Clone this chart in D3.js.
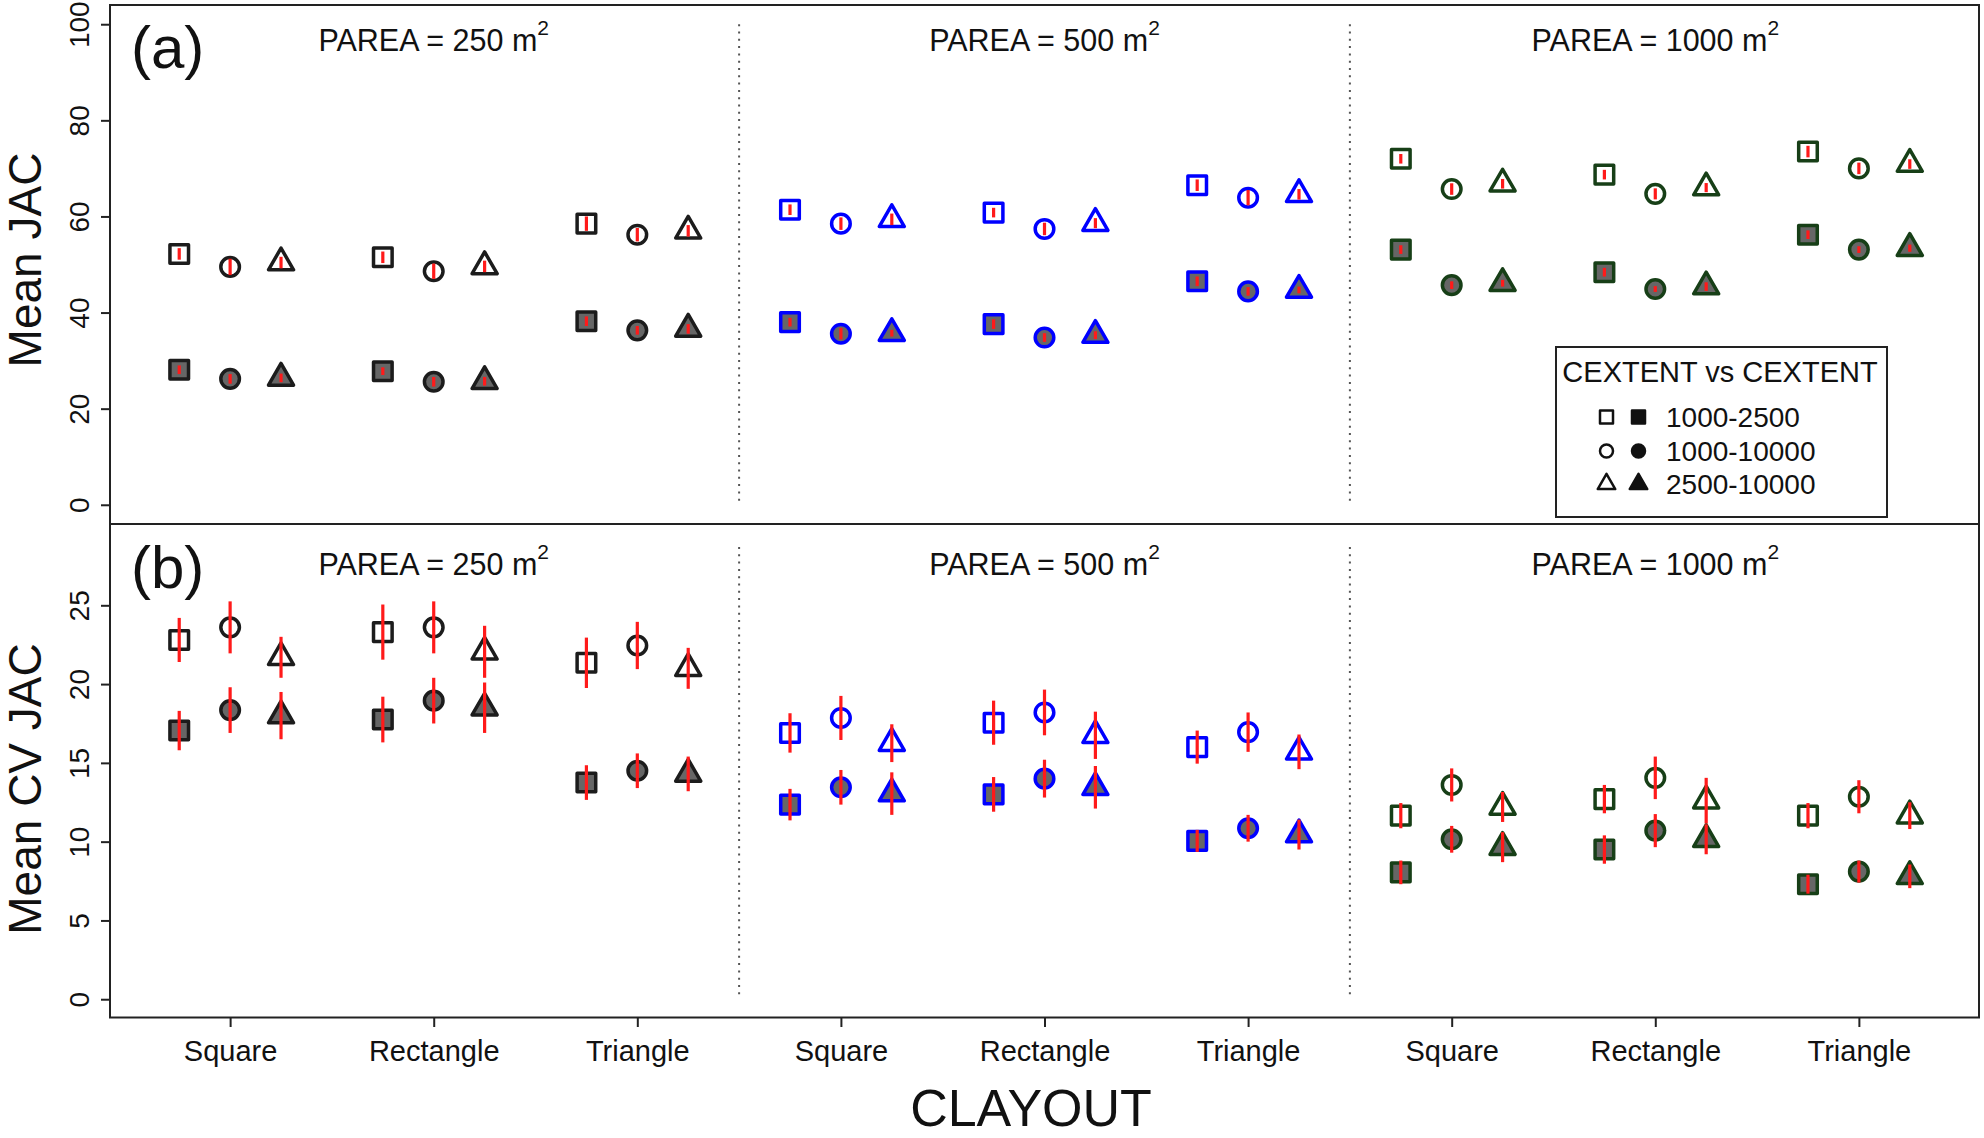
<!DOCTYPE html>
<meta charset="utf-8">
<script src="https://cdnjs.cloudflare.com/ajax/libs/d3/7.8.5/d3.min.js"></script>
<style>
body { margin: 0; background: #fff; }
text { font-family: "Liberation Sans", Arial, sans-serif; fill: #111; }
</style>
<body>
<script>

// categories (CLAYOUT) and the three PAREA groups
var categories = ["Square", "Rectangle", "Triangle", "Square", "Rectangle", "Triangle", "Square", "Rectangle", "Triangle"];
var pareaLabels = ["250", "500", "1000"];
var pairLabels = ["1000-2500", "1000-10000", "2500-10000"];
var groupColors = ["#1c1c1c", "#0000ff", "#173f17"];

// (a) Mean JAC, open and filled symbols
var jacOpenSq = [52.2, 51.5, 58.5, 61.4, 60.8, 66.5, 72.0, 68.7, 73.5];
var jacOpenCi = [49.5, 48.6, 56.2, 58.5, 57.4, 63.9, 65.7, 64.7, 70.0];
var jacOpenTr = [50.4, 49.6, 57.0, 59.4, 58.6, 64.6, 66.8, 66.0, 70.9];
var jacFillSq = [28.1, 27.8, 38.2, 38.0, 37.6, 46.5, 53.1, 48.4, 56.2];
var jacFillCi = [26.2, 25.6, 36.3, 35.6, 34.8, 44.4, 45.7, 44.9, 53.1];
var jacFillTr = [26.4, 25.7, 36.6, 35.7, 35.3, 44.7, 46.1, 45.4, 53.4];

var jacOpenSqSd = [1.2, 1.2, 1.5, 1.1, 1.0, 1.2, 1.0, 1.0, 1.2];
var jacOpenCiSd = [1.7, 1.6, 1.4, 1.3, 1.3, 1.6, 1.2, 1.15, 1.2];
var jacOpenTrSd = [1.2, 1.2, 1.2, 1.2, 1.05, 1.1, 1.0, 0.95, 1.0];
var jacFillSqSd = [0.9, 0.8, 1.0, 0.9, 1.0, 1.0, 0.9, 0.9, 0.9];
var jacFillCiSd = [1.0, 1.0, 0.9, 1.2, 0.9, 0.9, 0.8, 0.6, 0.7];
var jacFillTrSd = [0.9, 0.9, 1.0, 0.7, 0.8, 0.7, 0.7, 0.9, 0.75];

// (b) Mean CV JAC
var cvOpenSq = [22.8, 23.3, 21.35, 16.9, 17.55, 16.0, 11.65, 12.7, 11.65];
var cvOpenCi = [23.6, 23.6, 22.45, 17.85, 18.2, 16.95, 13.6, 14.05, 12.85];
var cvOpenTr = [21.7, 22.05, 21.0, 16.25, 16.75, 15.7, 12.2, 12.6, 11.65];
var cvFillSq = [17.05, 17.75, 13.75, 12.35, 13.0, 10.05, 8.05, 9.5, 7.3];
var cvFillCi = [18.35, 18.95, 14.5, 13.45, 14.0, 10.85, 10.15, 10.7, 8.1];
var cvFillTr = [18.0, 18.5, 14.3, 13.05, 13.45, 10.45, 9.65, 10.15, 7.8];

var cvOpenSqSd = [1.4, 1.75, 1.6, 1.25, 1.4, 1.05, 0.8, 0.9, 0.8];
var cvOpenCiSd = [1.65, 1.65, 1.5, 1.4, 1.45, 1.25, 1.05, 1.35, 1.05];
var cvOpenTrSd = [1.3, 1.65, 1.3, 1.2, 1.5, 1.1, 0.95, 1.45, 0.85];
var cvFillSqSd = [1.25, 1.45, 1.1, 1.0, 1.1, 0.7, 0.75, 0.9, 0.6];
var cvFillCiSd = [1.45, 1.45, 1.1, 1.1, 1.2, 0.85, 0.85, 1.05, 0.7];
var cvFillTrSd = [1.5, 1.6, 1.1, 1.35, 1.35, 0.95, 0.95, 0.95, 0.75];

var jacTicks = [0, 20, 40, 60, 80, 100];
var cvTicks = [0, 5, 10, 15, 20, 25];

// layout
var W = 1984, H = 1138;
var left = 110, right = 1979;
var topA = 5, midY = 524, botB = 1017.5;
var R = 9.3, RLeg = 6.5;

var svg = d3.select("body").append("svg")
    .attr("width", W)
    .attr("height", H);

var x = d3.scaleLinear().domain([0.41, 9.59]).range([left, right]);
var yA = d3.scaleLinear().domain([-4, 104]).range([midY, topA]);
var yB = d3.scaleLinear().domain([-1.16, 30.16]).range([botB, midY]);

var types = [d3.symbolSquare, d3.symbolCircle, d3.symbolTriangle];
var offsets = [-0.25, 0, 0.25];
function symPath(s, r) {
  var size = s == 0 ? 4 * r * r : Math.PI * r * r;
  return d3.symbol().type(types[s]).size(size)();
}

function buildRows(means, sds) {
  var rows = [];
  means.forEach(function(m, k) {
    m.forEach(function(v, i) {
      rows.push({ x: i + 1 + offsets[k % 3], m: v, sd: sds[k][i],
                  shape: k % 3, filled: k >= 3, color: groupColors[Math.floor(i / 3)] });
    });
  });
  return rows;
}

var rowsA = buildRows([jacOpenSq, jacOpenCi, jacOpenTr, jacFillSq, jacFillCi, jacFillTr],
                      [jacOpenSqSd, jacOpenCiSd, jacOpenTrSd, jacFillSqSd, jacFillCiSd, jacFillTrSd]);
var rowsB = buildRows([cvOpenSq, cvOpenCi, cvOpenTr, cvFillSq, cvFillCi, cvFillTr],
                      [cvOpenSqSd, cvOpenCiSd, cvOpenTrSd, cvFillSqSd, cvFillCiSd, cvFillTrSd]);

function drawPanel(y, rows, ticks, top, bottom, dotTop, tag, tagY, pareaY, title, titleY) {
  var g = svg.append("g");

  // dotted separators
  [3.5, 6.5].forEach(function(v) {
    g.append("line")
      .attr("x1", x(v)).attr("x2", x(v))
      .attr("y1", y(dotTop)).attr("y2", y(0))
      .attr("stroke", "#555").attr("stroke-width", 2)
      .attr("stroke-dasharray", "2,5.3");
  });

  // y axis
  var ax = g.append("g")
    .attr("transform", "translate(" + left + ",0)")
    .call(d3.axisLeft(y).tickValues(ticks).tickSize(9).tickFormat(d3.format("d")));
  ax.select(".domain").remove();
  ax.selectAll("line").attr("stroke", "#222").attr("stroke-width", 2);
  ax.selectAll("text")
    .attr("transform", "rotate(-90)")
    .attr("x", 0).attr("y", -21).attr("dy", 0)
    .attr("text-anchor", "middle")
    .style("font-size", "28px")
    .attr("fill", "#111");

  g.append("text")
    .attr("transform", "translate(41," + titleY + ") rotate(-90)")
    .attr("text-anchor", "middle")
    .style("font-size", "46px")
    .text(title);

  g.append("text")
    .attr("x", 131).attr("y", tagY)
    .style("font-size", "60px")
    .text(tag);

  pareaLabels.forEach(function(p, j) {
    g.append("text")
      .attr("x", x(j * 3 + 2)).attr("y", pareaY)
      .attr("text-anchor", "middle")
      .style("font-size", "30.5px")
      .text("PAREA = " + p + " m")
      .append("tspan").attr("dy", -16).style("font-size", "21px").text("2");
  });

  // markers
  g.selectAll(".pt").data(rows).enter().append("path")
    .attr("class", "pt")
    .attr("transform", function(d) { return "translate(" + x(d.x) + "," + y(d.m) + ")"; })
    .attr("d", function(d) { return symPath(d.shape, R); })
    .attr("fill", function(d) { return d.filled ? "#666666" : "#fff"; })
    .attr("stroke", function(d) { return d.color; })
    .attr("stroke-width", 3.5)
    .attr("stroke-linejoin", "round");

  // error bars
  g.selectAll(".eb").data(rows).enter().append("line")
    .attr("class", "eb")
    .attr("x1", function(d) { return x(d.x); })
    .attr("x2", function(d) { return x(d.x); })
    .attr("y1", function(d) { return y(d.m - d.sd); })
    .attr("y2", function(d) { return y(d.m + d.sd); })
    .attr("stroke", "#ff1a1a")
    .attr("stroke-width", 3.2);

  g.append("rect")
    .attr("x", left).attr("y", top)
    .attr("width", right - left).attr("height", bottom - top)
    .attr("fill", "none").attr("stroke", "#222").attr("stroke-width", 2);
  return g;
}

drawPanel(yA, rowsA, jacTicks, topA, midY, 100, "(a)", 68, 51, "Mean JAC", 260);
drawPanel(yB, rowsB, cvTicks, midY, botB, 28.7, "(b)", 588, 575, "Mean CV JAC", 789);

// x axis
var xa = svg.append("g")
  .attr("transform", "translate(0," + botB + ")")
  .call(d3.axisBottom(x).tickValues(d3.range(1, 10)).tickSize(9.5)
        .tickFormat(function(d) { return categories[d - 1]; }));
xa.select(".domain").remove();
xa.selectAll("line").attr("stroke", "#222").attr("stroke-width", 2);
xa.selectAll("text")
  .attr("y", 43.5).attr("dy", 0)
  .style("font-size", "29px")
  .attr("fill", "#111");

svg.append("text")
  .attr("x", 1031).attr("y", 1126)
  .attr("text-anchor", "middle")
  .style("font-size", "52px")
  .text("CLAYOUT");

// legend
var leg = svg.append("g");
leg.append("rect")
  .attr("x", 1556).attr("y", 347).attr("width", 331).attr("height", 170)
  .attr("fill", "#fff").attr("stroke", "#222").attr("stroke-width", 2);
leg.append("text")
  .attr("x", 1720).attr("y", 382)
  .attr("text-anchor", "middle")
  .style("font-size", "29px")
  .text("CEXTENT vs CEXTENT");
var legRowY = [417, 451, 484];
pairLabels.forEach(function(lab, s) {
  leg.append("path")
    .attr("transform", "translate(1606.5," + legRowY[s] + ")")
    .attr("d", symPath(s, RLeg))
    .attr("fill", "#fff").attr("stroke", "#111").attr("stroke-width", 2.5)
    .attr("stroke-linejoin", "round");
  leg.append("path")
    .attr("transform", "translate(1638.5," + legRowY[s] + ")")
    .attr("d", symPath(s, RLeg))
    .attr("fill", "#111").attr("stroke", "#111").attr("stroke-width", 2.5)
    .attr("stroke-linejoin", "round");
  leg.append("text")
    .attr("x", 1666).attr("y", legRowY[s] + 10)
    .style("font-size", "28px")
    .text(lab);
});

</script>
</body>
</html>
